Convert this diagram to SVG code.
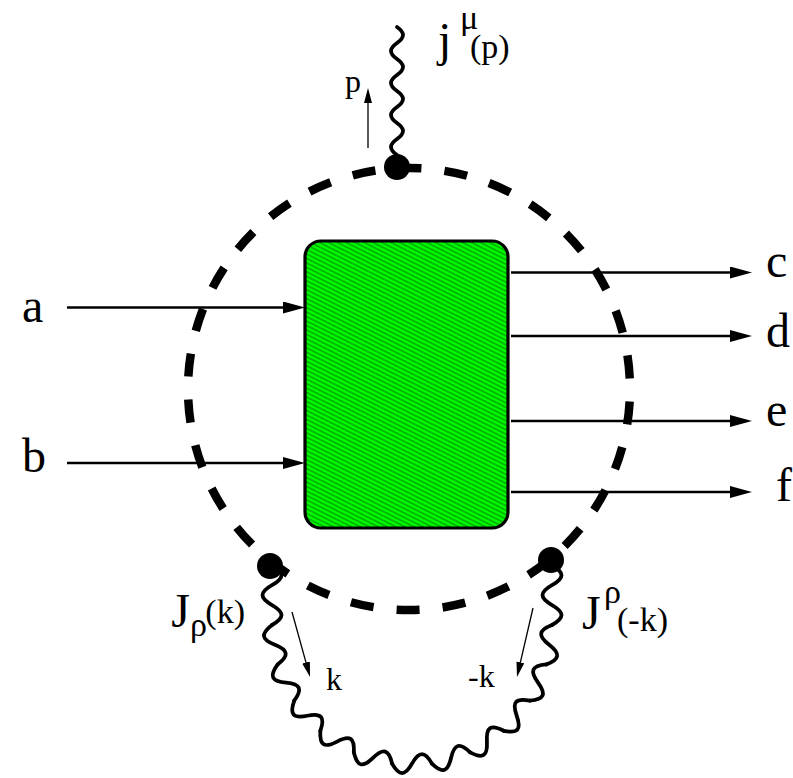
<svg xmlns="http://www.w3.org/2000/svg" xmlns:xlink="http://www.w3.org/1999/xlink" width="793" height="778" viewBox="0 0 793 778">
<style>
.big{font-size:48px}
.sm{font-size:34px}
.tiny{font-size:32px}
.arr{stroke:#000;stroke-width:2.5;fill:none}
.mom{stroke:#000;stroke-width:1.3;fill:none}
.wave{stroke:#000;stroke-width:3.8;fill:none;stroke-linecap:round;stroke-linejoin:round}
.dot{fill:#000}
</style>
<defs>
<pattern id="hatch" patternUnits="userSpaceOnUse" width="8" height="4" patternTransform="rotate(26.57)">
<rect width="8" height="4" fill="#00ff00"/>
<line x1="-1" y1="2" x2="9" y2="2" stroke="#000" stroke-width="0.55"/>
</pattern>
<marker id="ah" markerUnits="userSpaceOnUse" markerWidth="22" markerHeight="12" refX="10" refY="6" orient="auto">
<path d="M0,0 L22,6 L0,12 z" fill="#000"/>
</marker>
<marker id="ahs" markerUnits="userSpaceOnUse" markerWidth="15" markerHeight="8" refX="7" refY="4" orient="auto">
<path d="M0,0 L15,4 L0,8 z" fill="#000"/>
</marker>
<path id="seg" class="wave" d="M-19.92,138.57 C-12.75,151.24 -7.17,151.24 0,138.57 C7.17,125.9 12.75,125.9 19.92,138.57"/>
</defs>

<g id="loop">
<circle cx="409" cy="389" r="221" fill="none" stroke="#000" stroke-width="8.5" pathLength="60" stroke-dasharray="1 1" stroke-dashoffset="1.46"/>
</g>

<g id="blob">
<rect x="305" y="241" width="203" height="287" rx="16" ry="16" fill="url(#hatch)" stroke="#000" stroke-width="3.2"/>
</g>

<g id="connectors">
<line class="arr" x1="67" y1="307.5" x2="293" y2="307.5" marker-end="url(#ah)"/>
<line class="arr" x1="67" y1="463" x2="293" y2="463" marker-end="url(#ah)"/>
<line class="arr" x1="511" y1="272.5" x2="740" y2="272.5" marker-end="url(#ah)"/>
<line class="arr" x1="511" y1="336" x2="740" y2="336" marker-end="url(#ah)"/>
<line class="arr" x1="511" y1="421" x2="740" y2="421" marker-end="url(#ah)"/>
<line class="arr" x1="511" y1="492" x2="740" y2="492" marker-end="url(#ah)"/>

<line class="mom" x1="368" y1="148" x2="368" y2="96" marker-end="url(#ahs)"/>
<line class="mom" x1="292" y1="612" x2="307.9" y2="669.3" marker-end="url(#ahs)"/>
<line class="mom" x1="533" y1="608" x2="518.8" y2="669.2" marker-end="url(#ahs)"/>

<path class="wave" d="M397,27 C405,32.76 405,37.24 397,43 C389,48.76 389,53.24 397,59 C405,64.76 405,69.24 397,75 C389,80.76 389,85.24 397,91 C405,96.76 405,101.24 397,107 C389,112.76 389,117.24 397,123 C405,128.76 405,133.24 397,139 C389,144.76 389,149.24 397,155"/>

<g id="loopwave">
<path class="wave" d="M272,565.24 C284.67,572.41 284.67,577.99 272,585.16 C259.33,592.33 259.33,597.91 272,605.08 C284.67,612.25 284.67,617.83 272,625"/>
<path class="wave" d="M552,565.24 C564.67,572.41 564.67,577.99 552,585.16 C539.33,592.33 539.33,597.91 552,605.08 C564.67,612.25 564.67,617.83 552,625"/>
<use xlink:href="#seg" transform="translate(412,625) rotate(-81.82)"/>
<use xlink:href="#seg" transform="translate(412,625) rotate(-65.45)"/>
<use xlink:href="#seg" transform="translate(412,625) rotate(-49.09)"/>
<use xlink:href="#seg" transform="translate(412,625) rotate(-32.73)"/>
<use xlink:href="#seg" transform="translate(412,625) rotate(-16.36)"/>
<use xlink:href="#seg" transform="translate(412,625)"/>
<use xlink:href="#seg" transform="translate(412,625) rotate(16.36)"/>
<use xlink:href="#seg" transform="translate(412,625) rotate(32.73)"/>
<use xlink:href="#seg" transform="translate(412,625) rotate(49.09)"/>
<use xlink:href="#seg" transform="translate(412,625) rotate(65.45)"/>
<use xlink:href="#seg" transform="translate(412,625) rotate(81.82)"/>
</g>
</g>

<g id="vertex-top"><circle class="dot" cx="397" cy="167" r="13"/></g>
<g id="vertex-left"><circle class="dot" cx="270" cy="566" r="13"/></g>
<g id="vertex-right"><circle class="dot" cx="551" cy="560" r="13"/></g>

<g id="labels" font-family="'Liberation Serif', 'DejaVu Serif', serif" fill="#000">
<text class="big" x="22" y="322">a</text>
<text class="big" x="22" y="472">b</text>
<text class="big" x="766" y="277">c</text>
<text class="big" x="766" y="347">d</text>
<text class="big" x="766" y="426">e</text>
<text class="big" x="776" y="501">f</text>

<text class="big" x="438" y="56">j</text>
<text class="sm" x="460" y="29">μ</text>
<text class="sm" x="470" y="58">(p)</text>

<text class="tiny" x="345" y="92">p</text>
<text class="tiny" x="326" y="690">k</text>
<text class="tiny" x="468" y="687">-k</text>

<text class="big" x="190" y="627" text-anchor="end">J</text>
<text class="sm" x="190" y="636">ρ</text>
<text class="sm" x="245" y="623" text-anchor="end">(k)</text>

<text class="big" x="582" y="629">J</text>
<text class="sm" x="604" y="603">ρ</text>
<text class="sm" x="617" y="631">(-k)</text>
</g>
</svg>
